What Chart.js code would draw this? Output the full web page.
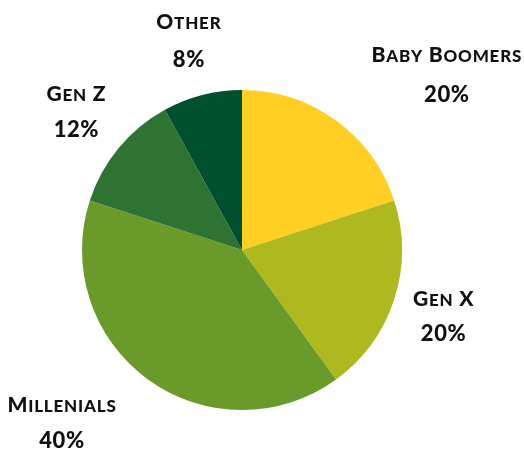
<!DOCTYPE html>
<html>
<head>
<meta charset="utf-8">
<script src="https://cdn.jsdelivr.net/npm/chart.js@4"></script>
<style>
html,body{margin:0;padding:0;background:#fff;}
#wrap{width:524px;height:450px;position:relative;}
</style>
</head>
<body>
<div id="wrap"><canvas id="c" width="524" height="450"></canvas></div>
<script>
const categories = ["Baby Boomers", "Gen X", "Millenials", "Gen Z", "Other"];
const values = [20, 20, 40, 12, 8];
const colors = ["#FFCF23", "#AEB81F", "#699A2A", "#2E7332", "#004F2F"];
// label anchor offsets relative to pie centre, in units of radius: [x, nameY, pctY]
const labelLayout = [
  [1.28, -1.220, -0.972],
  [1.26, 0.300, 0.522],
  [-1.125, 0.965, 1.185],
  [-1.035, -0.980, -0.757],
  [-0.332, -1.430, -1.195]
];

const FONT = 'Lato';
const WEIGHT = 900;
const BIG = 21, SMALL = 17, SPACING = 0.8;

function drawSmallCaps(ctx, text, cx, cy) {
  const parts = [];
  for (const ch of text) {
    const big = ch !== ch.toLowerCase() || ch === ' ';
    parts.push({ ch: ch.toUpperCase(), size: big ? BIG : SMALL });
  }
  ctx.letterSpacing = SPACING + 'px';
  let total = 0;
  parts.forEach(p => {
    ctx.font = `${WEIGHT} ${p.size}px ${FONT}`;
    p.w = ctx.measureText(p.ch).width;
    total += p.w;
  });
  let x = cx - total / 2;
  ctx.textAlign = 'left';
  ctx.textBaseline = 'alphabetic';
  const base = cy + BIG * 0.36;
  parts.forEach(p => {
    ctx.font = `${WEIGHT} ${p.size}px ${FONT}`;
    ctx.fillText(p.ch, x, base);
    x += p.w;
  });
}

const labelPlugin = {
  id: 'outLabels',
  afterDatasetsDraw(chart) {
    const ctx = chart.ctx;
    const meta = chart.getDatasetMeta(0);
    const arc = meta.data[0];
    const cx = arc.x, cy = arc.y, r = arc.outerRadius;
    const total = values.reduce((a, b) => a + b, 0);
    ctx.save();
    ctx.fillStyle = '#111111';
    categories.forEach((name, i) => {
      const [fx, fy1, fy2] = labelLayout[i];
      const x = cx + fx * r;
      drawSmallCaps(ctx, name, x, cy + fy1 * r);
      ctx.letterSpacing = '0.6px';
      ctx.font = `${WEIGHT} ${BIG + 1}px ${FONT}`;
      ctx.textAlign = 'center';
      ctx.textBaseline = 'alphabetic';
      ctx.fillText(Math.round(values[i] / total * 100) + '%', x, cy + fy2 * r + (BIG + 1) * 0.36);
    });
    ctx.restore();
  }
};

new Chart(document.getElementById('c'), {
  type: 'pie',
  data: {
    labels: categories,
    datasets: [{
      data: values,
      backgroundColor: colors,
      borderWidth: 0
    }]
  },
  options: {
    responsive: false,
    animation: false,
    layout: { padding: { left: 82, right: 122, top: 90, bottom: 40 } },
    plugins: { legend: { display: false }, tooltip: { enabled: false } }
  },
  plugins: [labelPlugin]
});
</script>
</body>
</html>
